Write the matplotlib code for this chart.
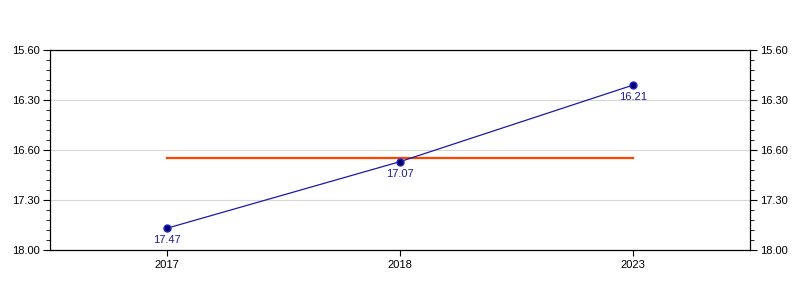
import matplotlib
matplotlib.use("Agg")
import matplotlib.pyplot as plt
from matplotlib.ticker import FixedLocator, FixedFormatter, MultipleLocator

plt.rcParams['font.family'] = ['Liberation Sans', 'DejaVu Sans']

# times as minutes.seconds
years = ["2017", "2018", "2023"]
times = ["17.47", "17.07", "16.21"]
tick_labels = ["15.60", "16.30", "16.60", "17.30", "18.00"]


def to_sec(t):
    m, s = t.split(".")
    return int(m) * 60 + int(s)


secs = [to_sec(t) for t in times]
avg = sum(secs) / len(secs)
x = list(range(len(years)))

fig = plt.figure(figsize=(8, 3), dpi=100)
ax = fig.add_axes([0.0625, 0.1667, 0.875, 0.6667])

ax.plot(x, [avg] * len(x), color="#ff4500", linewidth=1.6, zorder=2)
ax.plot(x, secs, color="#1a1aaa", linewidth=0.9, marker="o", markersize=5,
        markerfacecolor="#000066", markeredgecolor="#2222cc", zorder=3)
for xi, s, t in zip(x, secs, times):
    ax.annotate(t, (xi, s), xytext=(0, -5), textcoords="offset points",
                ha="center", va="top", fontsize=8, color="#1a1a99")

ymin, ymax = 960, 1080
ax.set_ylim(ymax, ymin)
ax.set_xlim(-0.5, len(x) - 0.5)
major = [960, 990, 1020, 1050, 1080]
ax.yaxis.set_major_locator(FixedLocator(major))
ax.yaxis.set_major_formatter(FixedFormatter(tick_labels))
ax.yaxis.set_minor_locator(MultipleLocator(6))
ax.set_xticks(x)
ax.set_xticklabels(years)

ax.grid(axis="y", which="major", color="#d8d8d8", linewidth=0.8)
ax.set_axisbelow(True)
ax.tick_params(axis="y", which="both", left=True, right=True,
               labelleft=True, labelright=True, labelsize=8, pad=2)
ax.tick_params(axis="y", which="major", length=5)
ax.tick_params(axis="y", which="minor", length=3)
ax.tick_params(axis="x", labelsize=8, length=4)
for sp in ax.spines.values():
    sp.set_linewidth(0.9)

fig.savefig("out.png", dpi=100)
